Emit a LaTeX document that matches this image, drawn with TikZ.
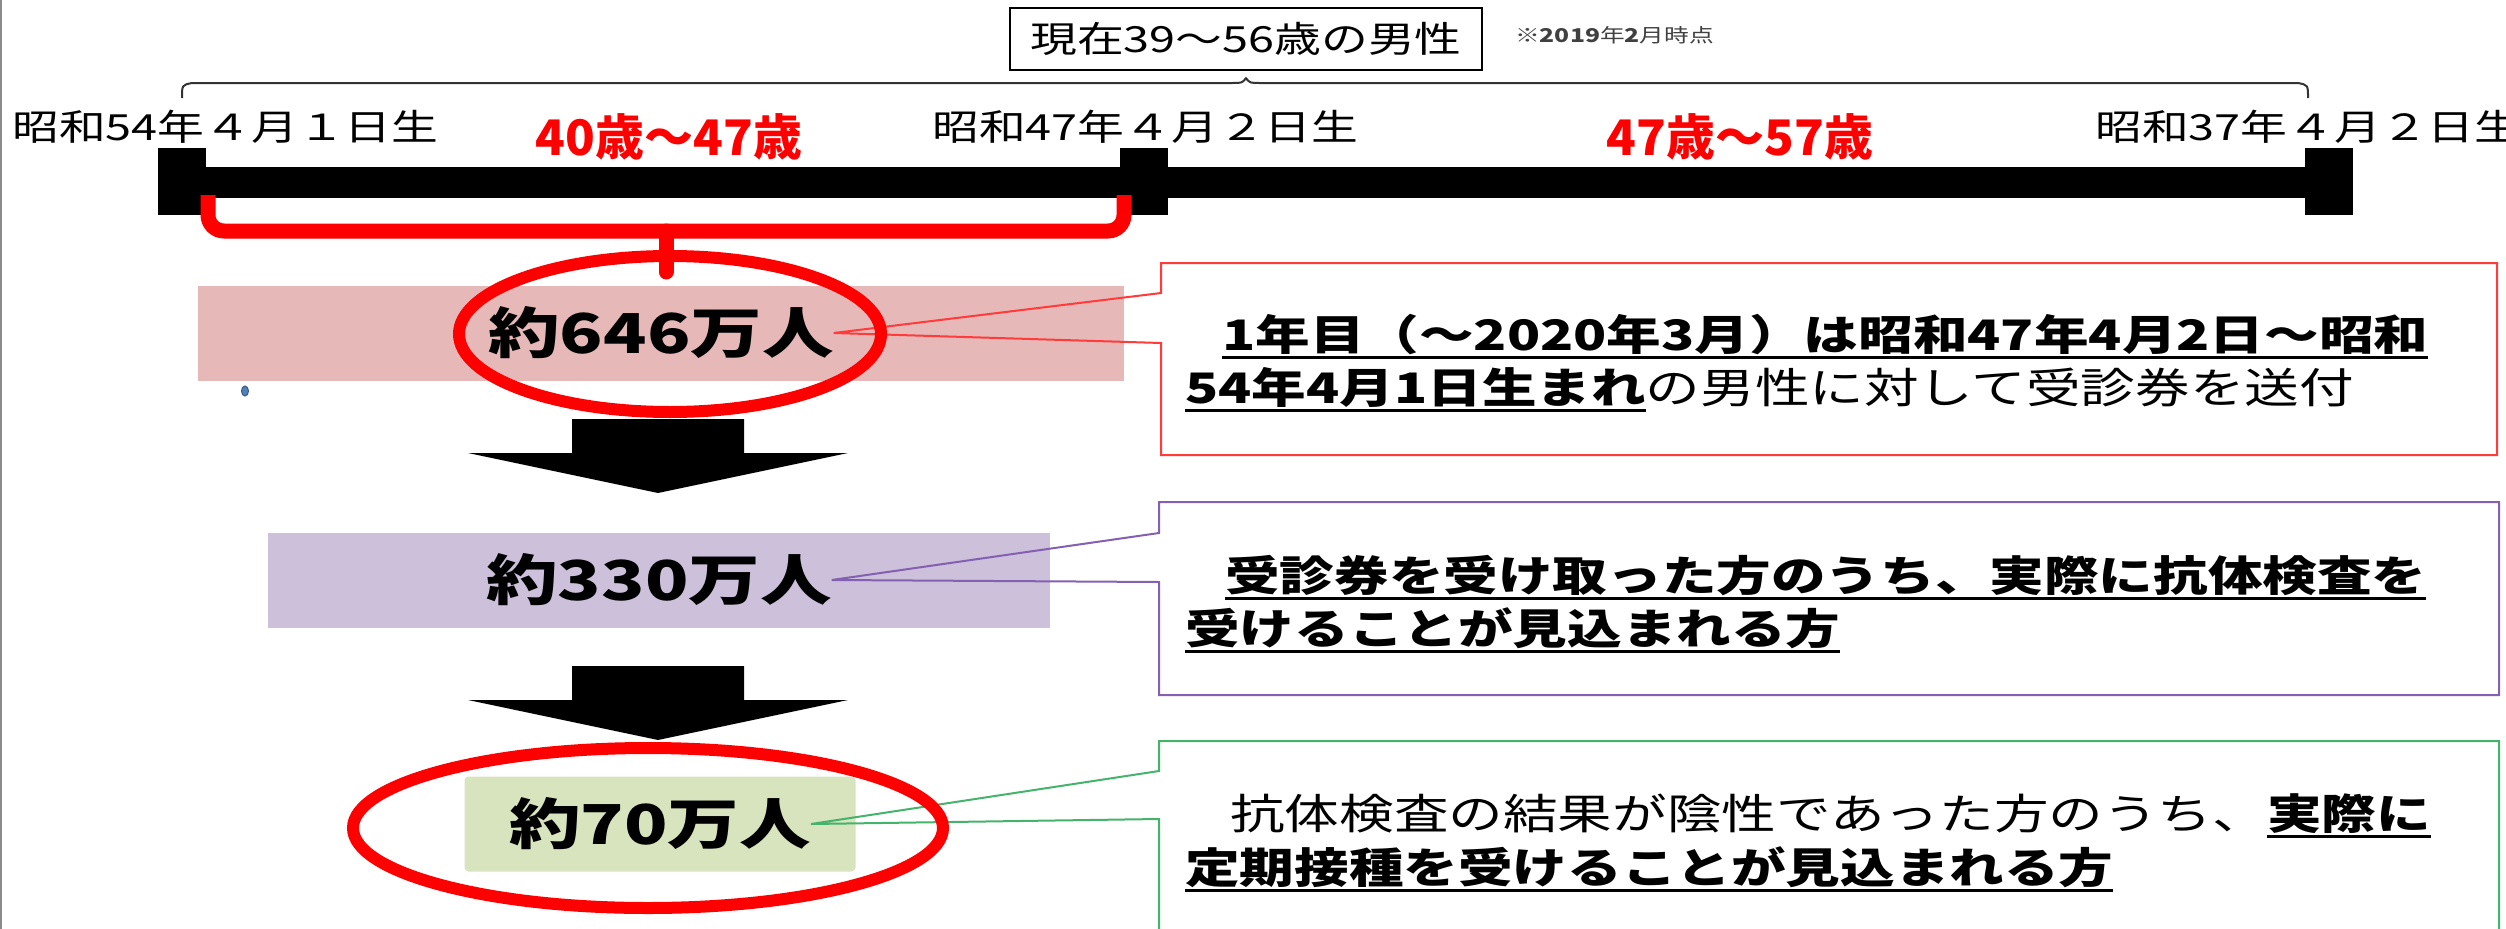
\documentclass[tikz,border=0pt]{standalone}
\usepackage{fontspec}
\newfontfamily\jp[FakeStretch=1.3]{Noto Sans CJK JP}
\newfontfamily\jpn{Noto Sans CJK JP}
\definecolor{bandpink}{HTML}{E6B9B8}
\definecolor{bandpurple}{HTML}{CCC0DA}
\definecolor{bandgreen}{HTML}{D7E4BD}
\definecolor{notered}{HTML}{FF3B3B}
\definecolor{notepurple}{HTML}{8460B0}
\definecolor{notegreen}{HTML}{45B36B}
\definecolor{dotblue}{HTML}{4F81BD}
\newcommand{\ulbox}[1]{\setbox0\hbox{#1}\rlap{\rule[-9pt]{\wd0}{3pt}}\box0}

\begin{document}
\begin{tikzpicture}[x=1pt,y=-1pt,
  lbl/.style={anchor=base west,inner sep=0,font=\jp\fontsize{36}{36}\selectfont},
  age/.style={inner sep=0,text=red,font=\jpn\bfseries\fontsize{49}{49}\selectfont},
  band/.style={inner sep=0,minimum height=95pt},
  count/.style={inner sep=0,font=\jp\bfseries\fontsize{55}{55}\selectfont},
  note/.style={anchor=base west,inner sep=0,font=\jp\fontsize{42}{42}\selectfont},
  ring/.style={draw=red,line width=12pt}]

\useasboundingbox (0,0) rectangle (2506,929);
\clip (0,0) rectangle (2506,929);
\draw[black!45,line width=2pt] (1,0) -- (1,929);

\node[draw,line width=2.5pt,minimum width=472pt,minimum height=62pt,inner sep=0,font=\jp\fontsize{36}{36}\selectfont] (now) at (1246,39) {現在39～56歳の男性};
\node[anchor=west,inner sep=0,text=black!75,font=\jp\fontsize{19}{19}\selectfont] (asof) at (1515,35) {※\textbf{2019}年\textbf{2}月時点};
\draw[black!80,line width=2pt] (182,98) .. controls (182,85) .. (192,83) -- (1232,83) .. controls (1242,83) .. ([yshift=-7pt]now.south) .. controls (1250,83) .. (1260,83) -- (2298,83) .. controls (2308,85) .. (2308,98);

\node[lbl] (lbl54) at (12,140) {昭和54年４月１日生};
\node[lbl] (lbl47) at (932,140) {昭和47年４月２日生};
\node[lbl] (lbl37) at (2095,140) {昭和37年４月２日生};
\node[age] (age1) at (669,137) {40歳～47歳};
\node[age] (age2) at (1740,137) {47歳～57歳};

\fill (158,167) rectangle (2353,198);
\foreach \x in {158,1120,2305}
  \fill (\x,148) rectangle ++(48,67);

\draw[red,line width=15pt,rounded corners=16pt] (208,195) -- (208,231) -- (1124,231) -- (1124,195);
\draw[red,line width=15pt,line cap=round] (666,231) -- (666,272);

\node[band,fill=bandpink,minimum width=926pt] (b646) at (661,333) {};
\node[count] (n646) at (b646) {約646万人};
\node[band,fill=bandpurple,minimum width=782pt] (b330) at (659,580) {};
\node[count] (n330) at (b330) {約330万人};
\node[band,fill=bandgreen,rounded corners=4pt,minimum width=391pt] (b70) at (660,824) {};
\node[count] (n70) at (b70) {約70万人};

\filldraw[fill=dotblue,draw=dotblue!70!black,line width=1pt] (245,391) ellipse [x radius=3.5,y radius=5];

\foreach \t in {419,666}
  \fill (572,\t) -- (744,\t) -- (744,\t+34) -- (848,\t+34) -- (658,\t+74) -- (468,\t+34) -- (572,\t+34) -- cycle;

\draw[notered,line width=2pt] (1161,293) -- (1161,263) -- (2497,263) -- (2497,455) -- (1161,455) -- (1161,343) -- (n646.east) -- cycle;
\draw[notepurple,line width=2pt] (1159,533) -- (1159,502) -- (2499,502) -- (2499,695) -- (1159,695) -- (1159,582) -- (n330.east) -- cycle;
\draw[notegreen,line width=2pt] (1159,771) -- (1159,741) -- (2499,741) -- (2499,950) -- (1159,950) -- (1159,819) -- (n70.east) -- cycle;

\node[note] (rnote1) at (1185,350) {\hspace{37pt}\ulbox{\bfseries 1年目（～2020年3月）は昭和47年4月2日～昭和}};
\node[note] (rnote2) at (1185,403) {\ulbox{\bfseries 54年4月1日生まれ}の男性に対して受診券を送付};
\node[note] (pnote1) at (1185,591) {\hspace{40pt}\ulbox{\bfseries 受診券を受け取った方のうち、実際に抗体検査を}};
\node[note] (pnote2) at (1185,644) {\ulbox{\bfseries 受けることが見込まれる方}};
\node[note] (gnote1) at (1185,829) {\hspace{45pt}抗体検査の結果が陰性であった方のうち、\ulbox{\bfseries 実際に}};
\node[note] (gnote2) at (1185,883) {\ulbox{\bfseries 定期接種を受けることが見込まれる方}};

\draw[ring] (670,334) ellipse [x radius=211,y radius=78];
\draw[ring] (648,828) ellipse [x radius=295,y radius=80];

\end{tikzpicture}
\end{document}
